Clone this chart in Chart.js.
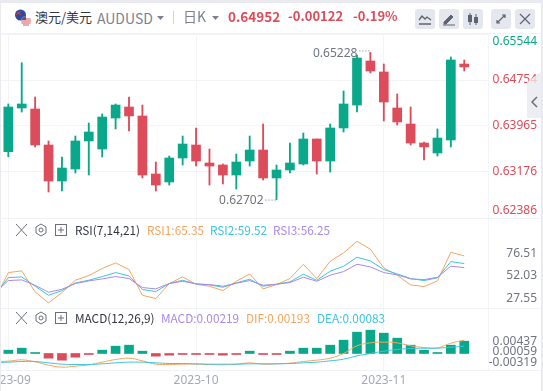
<!DOCTYPE html>
<html>
<head>
<meta charset="utf-8">
<script src="https://cdn.jsdelivr.net/npm/chart.js@4"></script>
<style>
html, body { margin: 0; padding: 0; background: #fff; }
body { width: 543px; height: 391px; position: relative; overflow: hidden; font-family: 'Noto Sans CJK SC', 'Noto Sans', sans-serif; }
canvas { position: absolute; left: 0; }
.t { position: absolute; white-space: nowrap; line-height: 16px; }
.edge { position: absolute; background: #e8eaf0; }
.rule { position: absolute; left: 0; width: 541px; height: 1px; background: #f1f2f6; }
.btn { position: absolute; top: 9px; width: 20px; height: 20px; border-radius: 3px; background: #e4e7ee; }
.btn svg, .ico { position: absolute; }
#tab { position: absolute; left: 527px; top: 72px; width: 14px; height: 46px; background: rgba(232,234,240,0.8); clip-path: polygon(0 10px, 100% 0, 100% 100%, 0 100%); }
</style>
</head>
<body>
<canvas id="priceChart" width="537" height="184" style="top:34px"></canvas>
<canvas id="rsiChart" width="537" height="89" style="top:219px"></canvas>
<canvas id="macdChart" width="537" height="83" style="top:308px"></canvas>

<div class="edge" style="left:0;top:0;width:543px;height:3px"></div>
<div class="edge" style="left:0;top:0;width:1px;height:391px"></div>
<div class="edge" style="left:541px;top:0;width:2px;height:391px"></div>
<div class="rule" style="top:33px"></div>
<div class="rule" style="top:218px"></div>
<div class="rule" style="top:308px"></div>
<div class="rule" style="top:370px"></div>

<svg class="ico" style="left:14px;top:8px" width="20" height="20" viewBox="0 0 20 20">
  <circle cx="6.5" cy="7" r="5.5" fill="#2b4a9b"/>
  <path d="M2 3l5 4M7 3L2 7" stroke="#d8404a" stroke-width="1"/>
  <circle cx="12" cy="13" r="5" fill="#fff"/>
  <path d="M7.4 11h9.2M7 13h10M7.4 15h9.2M9 17h6" stroke="#d8505a" stroke-width="1"/>
  <path d="M7.2 12a5 5 0 0 1 4.8-4v4z" fill="#54598f"/>
</svg>
<div class="t" style="left:35px;top:9px;font-size:13px;color:#33363f">澳元/美元</div>
<div class="t" style="left:97px;top:10px;font-size:14px;color:#7d818d">AUDUSD</div>
<svg class="ico" style="left:157px;top:16px" width="8" height="5"><path d="M0 0h7L3.5 4z" fill="#7d818d"/></svg>
<div class="edge" style="left:173px;top:11px;width:1px;height:13px;background:#cfd2da"></div>
<div class="t" style="left:183px;top:8px;font-size:14px;color:#7d818d">日K</div>
<svg class="ico" style="left:212px;top:16px" width="8" height="5"><path d="M0 0h7L3.5 4z" fill="#7d818d"/></svg>
<div class="t" style="left:228px;top:8px;font-size:13.5px;font-weight:700;color:#dc4c5a">0.64952</div>
<div class="t" style="left:288px;top:8px;font-size:13px;font-weight:700;color:#dc4c5a">-0.00122</div>
<div class="t" style="left:353px;top:8px;font-size:13px;font-weight:700;color:#dc4c5a">-0.19%</div>

<div class="btn" style="left:415px"><svg width="20" height="20"><path d="M4 11l3-4 3 3 2-2 4 3M4 15h12" fill="none" stroke="#5f6370" stroke-width="1.3"/></svg></div>
<div class="btn" style="left:439px"><svg width="20" height="20"><path d="M5 13l7-7 2 2-7 7H5zM4 16h12" fill="#5f6370" stroke="#5f6370"/></svg></div>
<div class="btn" style="left:463px"><svg width="20" height="20"><path d="M7 4v12M13 5v11" stroke="#5f6370"/><rect x="5" y="6" width="4" height="7" fill="#5f6370"/><rect x="11" y="8" width="4" height="6" fill="#5f6370"/></svg></div>
<div class="btn" style="left:491px"><svg width="20" height="20"><path d="M6 14l8-8M11 6h3v3M6 11v3h3" fill="none" stroke="#5f6370" stroke-width="1.2"/></svg></div>
<div class="btn" style="left:515px"><svg width="20" height="20"><path d="M5 5l10 10M15 5L5 15" stroke="#5f6370" stroke-width="1.2"/></svg></div>
<div id="tab"><svg width="14" height="46"><path d="M10 25l-5 5 5 5" fill="none" stroke="#6b6f7b" stroke-width="1.5"/></svg></div>

<svg class="ico" style="left:14px;top:223px" width="34" height="14"><path d="M2 1l11 12M13 1L2 13" stroke="#6b6f7b"/><path d="M27 1l5 3v6l-5 3-5-3V4z" fill="none" stroke="#6b6f7b"/><circle cx="27" cy="7" r="2" fill="none" stroke="#6b6f7b"/></svg>
<svg class="ico" style="left:54px;top:223px" width="14" height="14"><rect x="1.5" y="1.5" width="11" height="11" fill="none" stroke="#6b6f7b"/><path d="M4 7h6M7 4v6" stroke="#6b6f7b"/></svg>
<div class="t" style="left:75px;top:222px;font-size:11.8px;color:#33363f">RSI(7,14,21)</div>
<div class="t" style="left:147px;top:222px;font-size:11.8px;color:#f5a55f">RSI1:65.35</div>
<div class="t" style="left:210px;top:222px;font-size:11.8px;color:#3cc4e0">RSI2:59.52</div>
<div class="t" style="left:273px;top:222px;font-size:11.8px;color:#a98ae8">RSI3:56.25</div>

<svg class="ico" style="left:14px;top:311px" width="34" height="14"><path d="M2 1l11 12M13 1L2 13" stroke="#6b6f7b"/><path d="M27 1l5 3v6l-5 3-5-3V4z" fill="none" stroke="#6b6f7b"/><circle cx="27" cy="7" r="2" fill="none" stroke="#6b6f7b"/></svg>
<svg class="ico" style="left:54px;top:311px" width="14" height="14"><rect x="1.5" y="1.5" width="11" height="11" fill="none" stroke="#6b6f7b"/><path d="M4 7h6M7 4v6" stroke="#6b6f7b"/></svg>
<div class="t" style="left:75px;top:310px;font-size:11.8px;color:#33363f">MACD(12,26,9)</div>
<div class="t" style="left:161px;top:310px;font-size:11.8px;color:#a98ae8">MACD:0.00219</div>
<div class="t" style="left:246px;top:310px;font-size:11.8px;color:#f5a55f">DIF:0.00193</div>
<div class="t" style="left:317px;top:310px;font-size:11.8px;color:#3cc4e0">DEA:0.00083</div>

<script>
const opens = [0.63524, 0.64274, 0.64257, 0.63639, 0.63021, 0.63227, 0.63708, 0.6357, 0.64102, 0.64291, 0.64137, 0.63141, 0.63004, 0.63416, 0.63639, 0.6333, 0.63296, 0.63124, 0.63364, 0.63553, 0.63073, 0.6321, 0.63313, 0.63742, 0.63364, 0.63931, 0.64325, 0.65081, 0.64892, 0.64274, 0.63999, 0.63673, 0.63502, 0.63725, 0.65029]
const closes = [0.64291, 0.64343, 0.63639, 0.63021, 0.63244, 0.63708, 0.63862, 0.64119, 0.64325, 0.64137, 0.63124, 0.62952, 0.63416, 0.63656, 0.63364, 0.63278, 0.63124, 0.63347, 0.63553, 0.63073, 0.6321, 0.6333, 0.63742, 0.63364, 0.63931, 0.64343, 0.65132, 0.64909, 0.64377, 0.64034, 0.63673, 0.63605, 0.63759, 0.65098, 0.64978]
const highs = [0.64343, 0.65051, 0.64463, 0.63708, 0.63433, 0.63793, 0.64016, 0.64171, 0.64343, 0.64463, 0.64325, 0.63347, 0.6345, 0.63793, 0.63931, 0.6357, 0.63313, 0.63484, 0.63793, 0.63999, 0.63296, 0.63673, 0.63845, 0.63742, 0.63999, 0.64566, 0.65184, 0.65228, 0.65029, 0.64514, 0.64291, 0.6369, 0.63914, 0.65149, 0.65098]
const lows = [0.63438, 0.64205, 0.63605, 0.62832, 0.62849, 0.63158, 0.63124, 0.63433, 0.63914, 0.63879, 0.63073, 0.62849, 0.62952, 0.63296, 0.63278, 0.62952, 0.6297, 0.62884, 0.63278, 0.63038, 0.62702, 0.63158, 0.63296, 0.63141, 0.63175, 0.63862, 0.64205, 0.64875, 0.64051, 0.63982, 0.63639, 0.63381, 0.6345, 0.63605, 0.64909]

// these start one day before the first candle, off the left edge
const rsi1 = [27.01, 55.65, 57.44, 34.89, 23.08, 34.18, 47.42, 52.43, 59.95, 66.04, 58.88, 31.31, 27.73, 43.84, 51.0, 43.12, 40.98, 36.32, 46.35, 54.22, 38.11, 42.77, 49.21, 64.6, 49.21, 67.83, 76.78, 89.31, 80.71, 60.67, 52.79, 42.41, 40.62, 46.7, 77.49, 73.55]
const rsi2 = [31.31, 50.28, 51.0, 40.98, 31.31, 36.32, 44.56, 47.42, 51.36, 55.65, 52.07, 37.4, 35.25, 43.84, 47.42, 43.48, 42.41, 39.9, 44.56, 48.49, 40.98, 43.12, 45.63, 53.87, 47.42, 57.09, 62.46, 72.12, 68.18, 58.88, 54.22, 49.21, 47.06, 49.93, 67.47, 65.32]
const rsi3 = [34.17, 47.06, 47.78, 42.05, 34.53, 37.75, 43.84, 46.7, 48.85, 51.36, 49.21, 39.54, 38.11, 43.84, 46.35, 43.48, 42.77, 40.98, 44.2, 47.06, 42.05, 43.12, 44.91, 50.64, 46.35, 52.79, 56.73, 64.6, 61.74, 55.65, 53.15, 48.85, 48.14, 50.64, 62.46, 61.02]
const dif = [-0.00288, -0.00276, -0.00228, -0.003, -0.0042, -0.00492, -0.00456, -0.00408, -0.00312, -0.00216, -0.00168, -0.00264, -0.00384, -0.00396, -0.00384, -0.00384, -0.00396, -0.00408, -0.00384, -0.00336, -0.00384, -0.00372, -0.00348, -0.00288, -0.0024, -0.00168, 0, 0.00276, 0.00384, 0.00408, 0.00384, 0.00276, 0.00216, 0.00204, 0.00372, 0.0048]
const dea = [-0.00324, -0.00312, -0.00288, -0.00288, -0.00336, -0.00384, -0.00396, -0.00396, -0.00372, -0.00336, -0.00312, -0.00312, -0.00336, -0.0036, -0.0036, -0.00372, -0.00384, -0.00384, -0.00384, -0.00372, -0.00372, -0.00372, -0.0036, -0.00336, -0.00312, -0.00264, -0.00204, -0.00084, 0, 0.00084, 0.00144, 0.0018, 0.00192, 0.00192, 0.00228, 0.00264]
const macd = [0.0012, 0.00192, 0.00024, -0.00168, -0.0024, -0.00132, -0.00024, 0.0012, 0.00264, 0.003, 0.00084, -0.00096, -0.0006, -0.00024, -0.00024, -0.00024, -0.0006, -0.00024, 0.00084, -0.00024, -0.00024, 0.00084, 0.00192, 0.00192, 0.003, 0.0048, 0.00768, 0.0084, 0.00732, 0.00552, 0.003, 0.0012, 0.00024, 0.003, 0.00444]

const monthIndexes = [0, 14, 28]
const monthLabels = ['2023-09', '2023-10', '2023-11']
const priceTicks = [0.62386, 0.63176, 0.63965, 0.64754, 0.65544]
const rsiTicks = [27.55, 52.03, 76.51]
const macdTicks = [-0.00319, 0.00059, 0.00437]
const lastClose = 0.64952

const UP = '#0aa88a'
const DOWN = '#dc4c5a'
const ORANGE = '#f5a55f'
const CYAN = '#3cc4e0'
const PURPLE = '#a98ae8'
const GRID = '#f3f4f8'

const xMin = -0.62
const xMax = 35.77

function xScale (showLabels) {
  return {
    type: 'linear',
    offset: false,
    min: xMin,
    max: xMax,
    afterBuildTicks: s => { s.ticks = monthIndexes.map(value => ({ value })) },
    afterFit: s => {
      s.paddingLeft = 0
      s.paddingRight = 0
      s.height = showLabels ? 21 : 0
    },
    grid: { color: GRID, drawTicks: false, offset: false },
    border: { display: false },
    ticks: {
      display: showLabels,
      autoSkip: false,
      maxRotation: 0,
      padding: 3,
      color: '#a5a8bb',
      font: { size: 12, family: 'Noto Sans' },
      callback: v => monthLabels[monthIndexes.indexOf(v)]
    }
  }
}

function yScale (min, max, values, format, color, grid) {
  return {
    position: 'right',
    min,
    max,
    afterBuildTicks: s => { s.ticks = values.map(value => ({ value })) },
    afterFit: s => {
      s.width = 49
      s.paddingTop = 0
      s.paddingBottom = 0
    },
    grid: { color: GRID, drawTicks: false, display: grid },
    border: { display: true, color: GRID },
    ticks: {
      autoSkip: false,
      crossAlign: 'far',
      padding: 0,
      color,
      font: { size: 12, family: 'Noto Sans', lineHeight: 1.25 },
      callback: format
    }
  }
}

function baseOptions (x, y) {
  return {
    responsive: false,
    animation: false,
    layout: { padding: 0 },
    plugins: { legend: { display: false }, tooltip: { enabled: false } },
    scales: { x, y }
  }
}

function lineSet (values, color, tension) {
  return {
    type: 'line',
    data: values.map((y, i) => ({ x: i - 1, y })),
    borderColor: color,
    borderWidth: 1,
    pointRadius: 0,
    tension
  }
}

// the little "0.65228 ...." notes at the highest and lowest candle
const extremeNotes = {
  id: 'extremeNotes',
  afterDatasetsDraw (chart) {
    const { ctx, scales } = chart
    const top = highs.indexOf(Math.max(...highs))
    const bottom = lows.indexOf(Math.min(...lows))
    const notes = [[top, highs[top], -2], [bottom, lows[bottom], 0]]
    ctx.save()
    ctx.font = '12px "Noto Sans"'
    ctx.fillStyle = '#71757f'
    ctx.strokeStyle = '#71757f'
    ctx.textAlign = 'right'
    ctx.textBaseline = 'middle'
    notes.forEach(([i, v, dy]) => {
      const x = scales.x.getPixelForValue(i)
      const y = scales.y.getPixelForValue(v)
      ctx.fillText(v.toFixed(5), x - 13, y + 1)
      ctx.setLineDash([1, 2])
      ctx.beginPath()
      ctx.moveTo(x - 11, y + dy + 0.5)
      ctx.lineTo(x - 1, y + dy + 0.5)
      ctx.stroke()
    })
    ctx.restore()
  }
}

const candleColors = opens.map((o, i) => closes[i] >= o ? UP : DOWN)

new Chart(document.getElementById('priceChart'), {
  type: 'bar',
  data: {
    datasets: [
      {
        data: opens.map((o, i) => ({ x: i, y: [o, closes[i]] })),
        backgroundColor: candleColors,
        barThickness: 9,
        grouped: false
      },
      {
        data: lows.map((l, i) => ({ x: i, y: [l, highs[i]] })),
        backgroundColor: candleColors,
        barThickness: 1.2,
        grouped: false
      }
    ]
  },
  options: baseOptions(
    xScale(false),
    yScale(0.62386, 0.65544, priceTicks, v => {
      const text = v.toFixed(5)
      // end labels are pushed inside the panel
      if (v === priceTicks[priceTicks.length - 1]) return ['', text]
      if (v === priceTicks[0]) return [text, '']
      return text
    }, ctx => ctx.tick.value > lastClose ? UP : DOWN, true)
  ),
  plugins: [extremeNotes]
})

new Chart(document.getElementById('rsiChart'), {
  type: 'line',
  data: {
    datasets: [
      lineSet(rsi3, PURPLE, 0),
      lineSet(rsi2, CYAN, 0),
      lineSet(rsi1, ORANGE, 0)
    ]
  },
  options: baseOptions(xScale(false), yScale(17.6, 113.2, rsiTicks, v => v.toFixed(2), '#71757f', false))
})

new Chart(document.getElementById('macdChart'), {
  type: 'bar',
  data: {
    datasets: [
      lineSet(dea, CYAN, 0.4),
      lineSet(dif, ORANGE, 0.4),
      {
        data: macd.map((y, i) => ({ x: i, y })),
        backgroundColor: macd.map(v => v >= 0 ? UP : DOWN),
        barThickness: 9,
        minBarLength: 1,
        grouped: false
      }
    ]
  },
  options: baseOptions(xScale(true), yScale(-0.00594, 0.01638, macdTicks, v => v.toFixed(5), '#71757f', false))
})
</script>
</body>
</html>
